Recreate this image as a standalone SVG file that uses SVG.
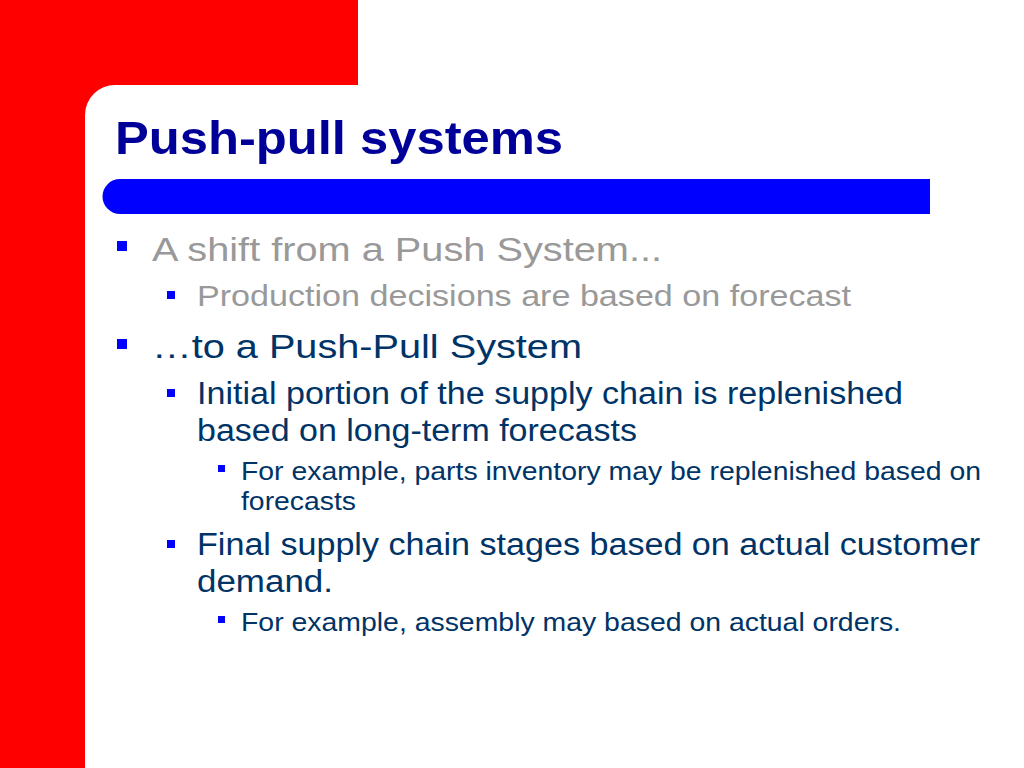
<svg xmlns="http://www.w3.org/2000/svg" width="1024" height="768" viewBox="0 0 1024 768">
<style>
text{font-family:"Liberation Sans",Arial,sans-serif}
.t{font-size:46px;font-weight:bold;fill:#000099}
.g1{font-size:34px;fill:#999999}
.g2{font-size:30px;fill:#999999}
.d1{font-size:34px;fill:#003366}
.d2{font-size:31px;fill:#003366}
.d3{font-size:26px;fill:#003366}
.b{fill:#0000ff}
</style>
<rect width="1024" height="768" fill="#fff"/>
<path d="M0 0H358V85H115A30 30 0 0 0 85 115V768H0Z" fill="#ff0000"/>
<path d="M120 179H930V214H120A17.5 17.5 0 0 1 120 179Z" fill="#0000ff"/>
<text class="t" x="115" y="154" textLength="448" lengthAdjust="spacingAndGlyphs">Push-pull systems</text>
<rect class="b" x="117" y="241" width="10" height="10"/>
<text class="g1" x="152" y="261" textLength="510" lengthAdjust="spacingAndGlyphs">A shift from a Push System...</text>
<rect class="b" x="167" y="291" width="8" height="8"/>
<text class="g2" x="197" y="306" textLength="654" lengthAdjust="spacingAndGlyphs">Production decisions are based on forecast</text>
<rect class="b" x="117" y="339" width="10" height="10"/>
<text class="d1" x="152" y="358" textLength="430" lengthAdjust="spacingAndGlyphs">…to a Push-Pull System</text>
<rect class="b" x="167" y="389" width="8" height="8"/>
<text class="d2" x="197" y="404" textLength="706" lengthAdjust="spacingAndGlyphs">Initial portion of the supply chain is replenished</text>
<text class="d2" x="197" y="441" textLength="440" lengthAdjust="spacingAndGlyphs">based on long-term forecasts</text>
<rect class="b" x="218" y="465" width="7" height="7"/>
<text class="d3" x="241" y="480" textLength="740" lengthAdjust="spacingAndGlyphs">For example, parts inventory may be replenished based on</text>
<text class="d3" x="241" y="510" textLength="115" lengthAdjust="spacingAndGlyphs">forecasts</text>
<rect class="b" x="167" y="540" width="8" height="8"/>
<text class="d2" x="197" y="555" textLength="783" lengthAdjust="spacingAndGlyphs">Final supply chain stages based on actual customer</text>
<text class="d2" x="197" y="592" textLength="136" lengthAdjust="spacingAndGlyphs">demand.</text>
<rect class="b" x="218" y="616" width="7" height="7"/>
<text class="d3" x="241" y="631" textLength="660" lengthAdjust="spacingAndGlyphs">For example, assembly may based on actual orders.</text>
</svg>
